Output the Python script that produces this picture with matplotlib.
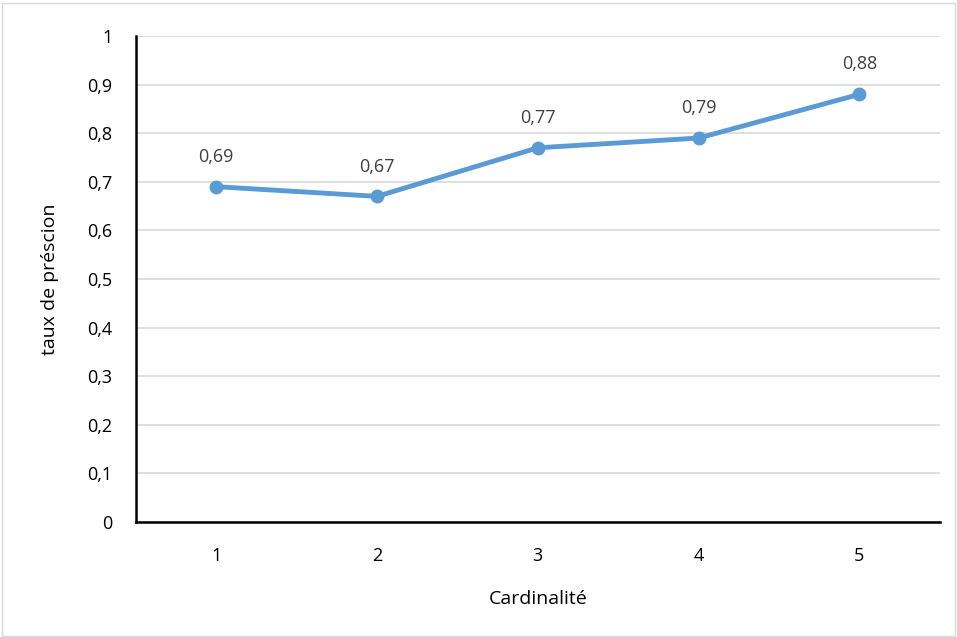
import matplotlib.pyplot as plt
from matplotlib.patches import Rectangle

cardinalite = [1, 2, 3, 4, 5]
precision = [0.69, 0.67, 0.77, 0.79, 0.88]
yticks = [0, 0.1, 0.2, 0.3, 0.4, 0.5, 0.6, 0.7, 0.8, 0.9, 1]

plt.rcParams['font.family'] = ['Open Sans', 'DejaVu Sans']

fig = plt.figure(figsize=(9.57, 6.37), dpi=100)
ax = fig.add_axes([0.142, 0.1805, 0.840, 0.763])

# light frame around the whole chart
fig.patches.append(Rectangle((0.002, 0.002), 0.996, 0.994, transform=fig.transFigure,
                             fill=False, edgecolor='#d9d9d9', linewidth=1))

ax.plot(cardinalite, precision, color='#5b9bd5', linewidth=3.5,
        marker='o', markersize=9, solid_capstyle='round', zorder=3)

for x, y in zip(cardinalite, precision):
    ax.annotate(f'{y:.2f}'.replace('.', ','), (x, y), xytext=(0, 15),
                textcoords='offset points', ha='center', va='bottom',
                fontsize=13, color='#404040')

ax.set_xlim(0.5, 5.5)
ax.set_ylim(0, 1)
ax.set_xticks(cardinalite)
ax.set_yticks(yticks)
ax.set_yticklabels([('%g' % t).replace('.', ',') for t in yticks])
ax.tick_params(axis='both', length=0, labelsize=13, colors='black')
ax.tick_params(axis='x', pad=18)
ax.tick_params(axis='y', pad=17)

ax.grid(axis='y', color='#d9d9d9', linewidth=1.2)
ax.set_axisbelow(True)
for s in ['top', 'right']:
    ax.spines[s].set_visible(False)
ax.spines['left'].set_linewidth(1.8)
ax.spines['bottom'].set_linewidth(1.8)

ax.set_xlabel('Cardinalité', fontsize=14, labelpad=18)
ax.set_ylabel('taux de préscion', fontsize=14, labelpad=20)

fig.savefig('out.png')
